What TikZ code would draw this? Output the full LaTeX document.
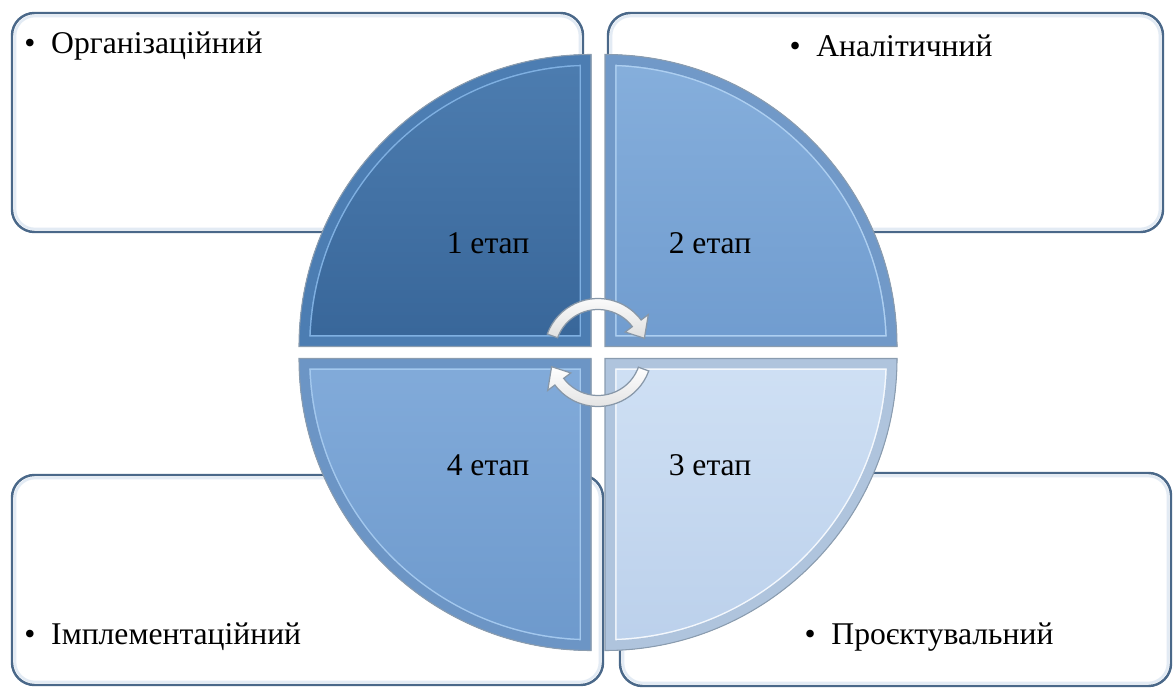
\documentclass[tikz,border=0pt]{standalone}
\usepackage{fontspec}
\setmainfont{Liberation Serif}
\newfontfamily\diagfont{Liberation Serif}
\usepackage{xcolor}
\usepackage{tikz}
\usetikzlibrary{positioning, calc}
\definecolor{boxedge}{HTML}{4A6889}
\definecolor{boxglow}{HTML}{E3EBF4}
\definecolor{qonetop}{HTML}{4D7DB0}
\definecolor{qonebot}{HTML}{386699}
\definecolor{qonerim}{HTML}{4C7DB2}
\definecolor{qonehl}{HTML}{7FB0E2}
\definecolor{qtwotop}{HTML}{86AFDC}
\definecolor{qtwobot}{HTML}{709CCF}
\definecolor{qtworim}{HTML}{7199C8}
\definecolor{qtwohl}{HTML}{ADCFF1}
\definecolor{qthrtop}{HTML}{CFE0F4}
\definecolor{qthrbot}{HTML}{BBD0EB}
\definecolor{qthrrim}{HTML}{AFC4DD}
\definecolor{qthrhl}{HTML}{F4F8FD}
\definecolor{qfourtop}{HTML}{82ABDA}
\definecolor{qfourbot}{HTML}{6D99CC}
\definecolor{qfourrim}{HTML}{6C95C5}
\definecolor{qfourhl}{HTML}{A3C8EE}
\definecolor{quadedge}{HTML}{3C5A7A}
\definecolor{cycleedge}{HTML}{8797A8}
\tikzset{
    box/.style={draw=boxedge, line width=1.4pt, fill=white, rounded corners=0.45cm},
    itemlabel/.style={inner sep=0pt, font=\diagfont\fontsize{18}{22}\selectfont},
    stagelabel/.style={inner sep=0pt, font=\diagfont\fontsize{18}{22}\selectfont}
}

\begin{document}
\begin{tikzpicture}[x=0.02cm, y=0.02cm,
    cyclearrow/.style={draw=cycleedge, line width=0.7pt, top color=white, bottom color=gray!25}]

    \useasboundingbox (0,0) rectangle (1176,687);

    % text boxes behind the circle
    \draw [box] (12,455)  rectangle (583,674);
    \draw [box] (608,455) rectangle (1163,674);
    \draw [box] (12,2)    rectangle (603,212);
    \draw [box] (620,1)   rectangle (1171,214);
    \draw [boxglow, line width=1.5pt, rounded corners=0.4cm] (15,458)  rectangle (580,671);
    \draw [boxglow, line width=1.5pt, rounded corners=0.4cm] (611,458) rectangle (1160,671);
    \draw [boxglow, line width=1.5pt, rounded corners=0.4cm] (15,5)    rectangle (600,209);
    \draw [boxglow, line width=1.5pt, rounded corners=0.4cm] (623,4)   rectangle (1168,211);

    \node (org)  [itemlabel, anchor=west] at (24,641)  {•\enspace Організаційний};
    \node (anal) [itemlabel]              at (891,641) {•\enspace Аналітичний};
    \node (impl) [itemlabel, anchor=west] at (24,50)   {•\enspace Імплементаційний};
    \node (proj) [itemlabel]              at (929,50)  {•\enspace Проєктувальний};

    % four quarters of the circle
    \foreach \cx/\cy/\a/\ctop/\cbot/\crim/\chl in {
        591/340.5/180/qonetop/qonebot/qonerim/qonehl,
        605/340.5/90/qtwotop/qtwobot/qtworim/qtwohl,
        605/328.5/0/qthrtop/qthrbot/qthrrim/qthrhl,
        591/328.5/-90/qfourtop/qfourbot/qfourrim/qfourhl} {
        \begin{scope}
            \clip (\cx,\cy) -- ++(\a:292) arc[start angle=\a, end angle=\a-90, radius=292] -- cycle;
            \fill [top color=\ctop, bottom color=\cbot]
                (\cx,\cy) -- ++(\a:292) arc[start angle=\a, end angle=\a-90, radius=292] -- cycle;
            \draw [\chl, line width=0.46cm]
                (\cx,\cy) -- ++(\a:292) arc[start angle=\a, end angle=\a-90, radius=292] -- cycle;
            \draw [\crim, line width=0.40cm]
                (\cx,\cy) -- ++(\a:292) arc[start angle=\a, end angle=\a-90, radius=292] -- cycle;
        \end{scope}
        \draw [quadedge!60, line width=0.6pt]
            (\cx,\cy) -- ++(\a:292) arc[start angle=\a, end angle=\a-90, radius=292] -- cycle;
    }

    \node (s1) [stagelabel] at (488,444) {1 етап};
    \node (s2) [stagelabel] at (710,444) {2 етап};
    \node (s3) [stagelabel] at (710,222) {3 етап};
    \node (s4) [stagelabel] at (488,222) {4 етап};

    % cycle arrows in the middle
    \begin{scope}[shift={(598,334.5)}]
        \path [cyclearrow] (160:54) arc[start angle=160, end angle=37, radius=54]
            -- (37:63) -- (17:48.5) -- (37:34) -- (37:43)
            arc[start angle=37, end angle=160, radius=43] -- cycle;
        \path [cyclearrow] (-20:54) arc[start angle=-20, end angle=-143, radius=54]
            -- (-143:63) -- (-163:48.5) -- (-143:34) -- (-143:43)
            arc[start angle=-143, end angle=-20, radius=43] -- cycle;
    \end{scope}
\end{tikzpicture}
\end{document}
